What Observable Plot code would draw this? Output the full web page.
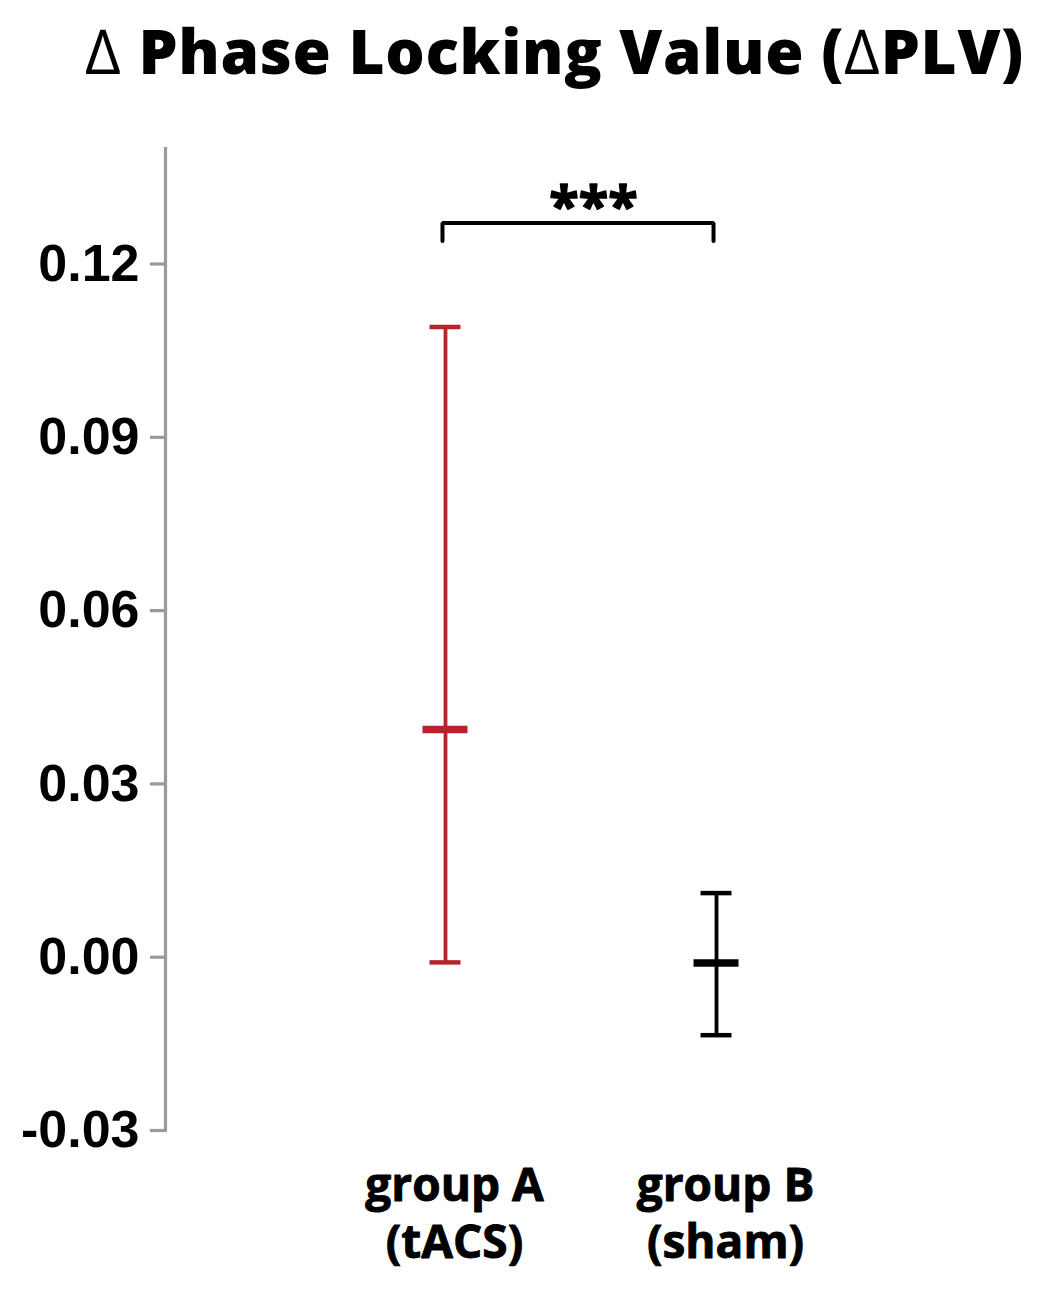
<!DOCTYPE html>
<html>
<head>
<meta charset="utf-8">
<script src="https://cdn.jsdelivr.net/npm/d3@7"></script>
<script src="https://cdn.jsdelivr.net/npm/@observablehq/plot@0.6"></script>
<style>
  html, body { margin: 0; padding: 0; background: #fff; }
  #title {
    height: 110px; box-sizing: border-box; padding-left: 85px;
    font-family: "Open Sans", sans-serif; font-weight: 800; font-size: 62px;
    line-height: 100px; color: #000; white-space: nowrap;
    letter-spacing: 0.7px;
  }
  #title .d { font-weight: 400; }
  #chart svg { display: block; }
</style>
</head>
<body>
<div id="title"><span class="d">∆</span> Phase Locking Value (<span class="d">∆</span>PLV)</div>
<div id="chart"></div>
<script>
// ---- data ----
const groups = ["group A", "group B"];
const conditions = ["tACS", "sham"];
const means = [0.0394, -0.0010];
const upper = [0.1091, 0.0111];
const lower = [-0.0009, -0.0135];
const colors = ["#b8232b", "#000000"];
const yTicks = [-0.03, 0.00, 0.03, 0.06, 0.09, 0.12];
const significance = "***";
const bracketTop = 0.1271;
const bracketFoot = 0.1240;

const data = groups.map((g, i) => ({
  group: g, cond: conditions[i], mean: means[i], hi: upper[i], lo: lower[i], color: colors[i]
}));
const bracket = [
  {group: groups[0], y: bracketFoot},
  {group: groups[0], y: bracketTop},
  {group: groups[1], y: bracketTop},
  {group: groups[1], y: bracketFoot}
];

const chart = Plot.plot({
  width: 1058,
  height: 1190,
  marginTop: 38,
  marginBottom: 170,
  marginLeft: 165,
  marginRight: 62,
  style: {fontFamily: "'Liberation Sans', Arial, sans-serif", background: "#fff"},
  x: {type: "band", domain: groups, paddingInner: 0.834, paddingOuter: 0.95, round: false, axis: null},
  y: {domain: [-0.03, 0.14], axis: null},
  marks: [
    Plot.frame({anchor: "left", stroke: "#9a9a9a", strokeWidth: 3.2}),
    Plot.axisY({
      ticks: yTicks, tickSize: 15, tickPadding: 11, stroke: "#9a9a9a", strokeWidth: 3.2,
      tickFormat: d => d.toFixed(2), fontSize: 52, fontWeight: "bold", fill: "#000", label: null
    }),
    Plot.ruleX(data, {x: "group", y1: "lo", y2: "hi", stroke: "color", strokeWidth: 3.8}),
    Plot.tickY(data, {x: "group", y: "hi", stroke: "color", strokeWidth: 4.5, insetLeft: 7, insetRight: 7}),
    Plot.tickY(data, {x: "group", y: "lo", stroke: "color", strokeWidth: 4.5, insetLeft: 7, insetRight: 7}),
    Plot.tickY(data, {x: "group", y: "mean", stroke: "color", strokeWidth: 7.5}),
    Plot.line(bracket, {x: "group", y: "y", stroke: "#000", strokeWidth: 4, strokeLinejoin: "miter", dx: -3}),
    Plot.text([significance], {x: () => groups[0], y: () => bracketTop, text: d => d, dx: 148, dy: 2,
      lineAnchor: "bottom", fontFamily: "'Open Sans', sans-serif", fontWeight: "bold", fontSize: 54,
      fill: "#000", stroke: "#000", strokeWidth: 1.5}),
    Plot.text(data, {x: "group", text: d => `${d.group}\n(${d.cond})`, frameAnchor: "bottom",
      lineAnchor: "top", dy: 30, dx: 9, lineHeight: 1.24,
      fontFamily: "'Open Sans', sans-serif", fontWeight: "bold", fontSize: 46,
      fill: "#000", stroke: "#000", strokeWidth: 0.9})
  ]
});
document.getElementById("chart").appendChild(chart);
</script>
</body>
</html>
